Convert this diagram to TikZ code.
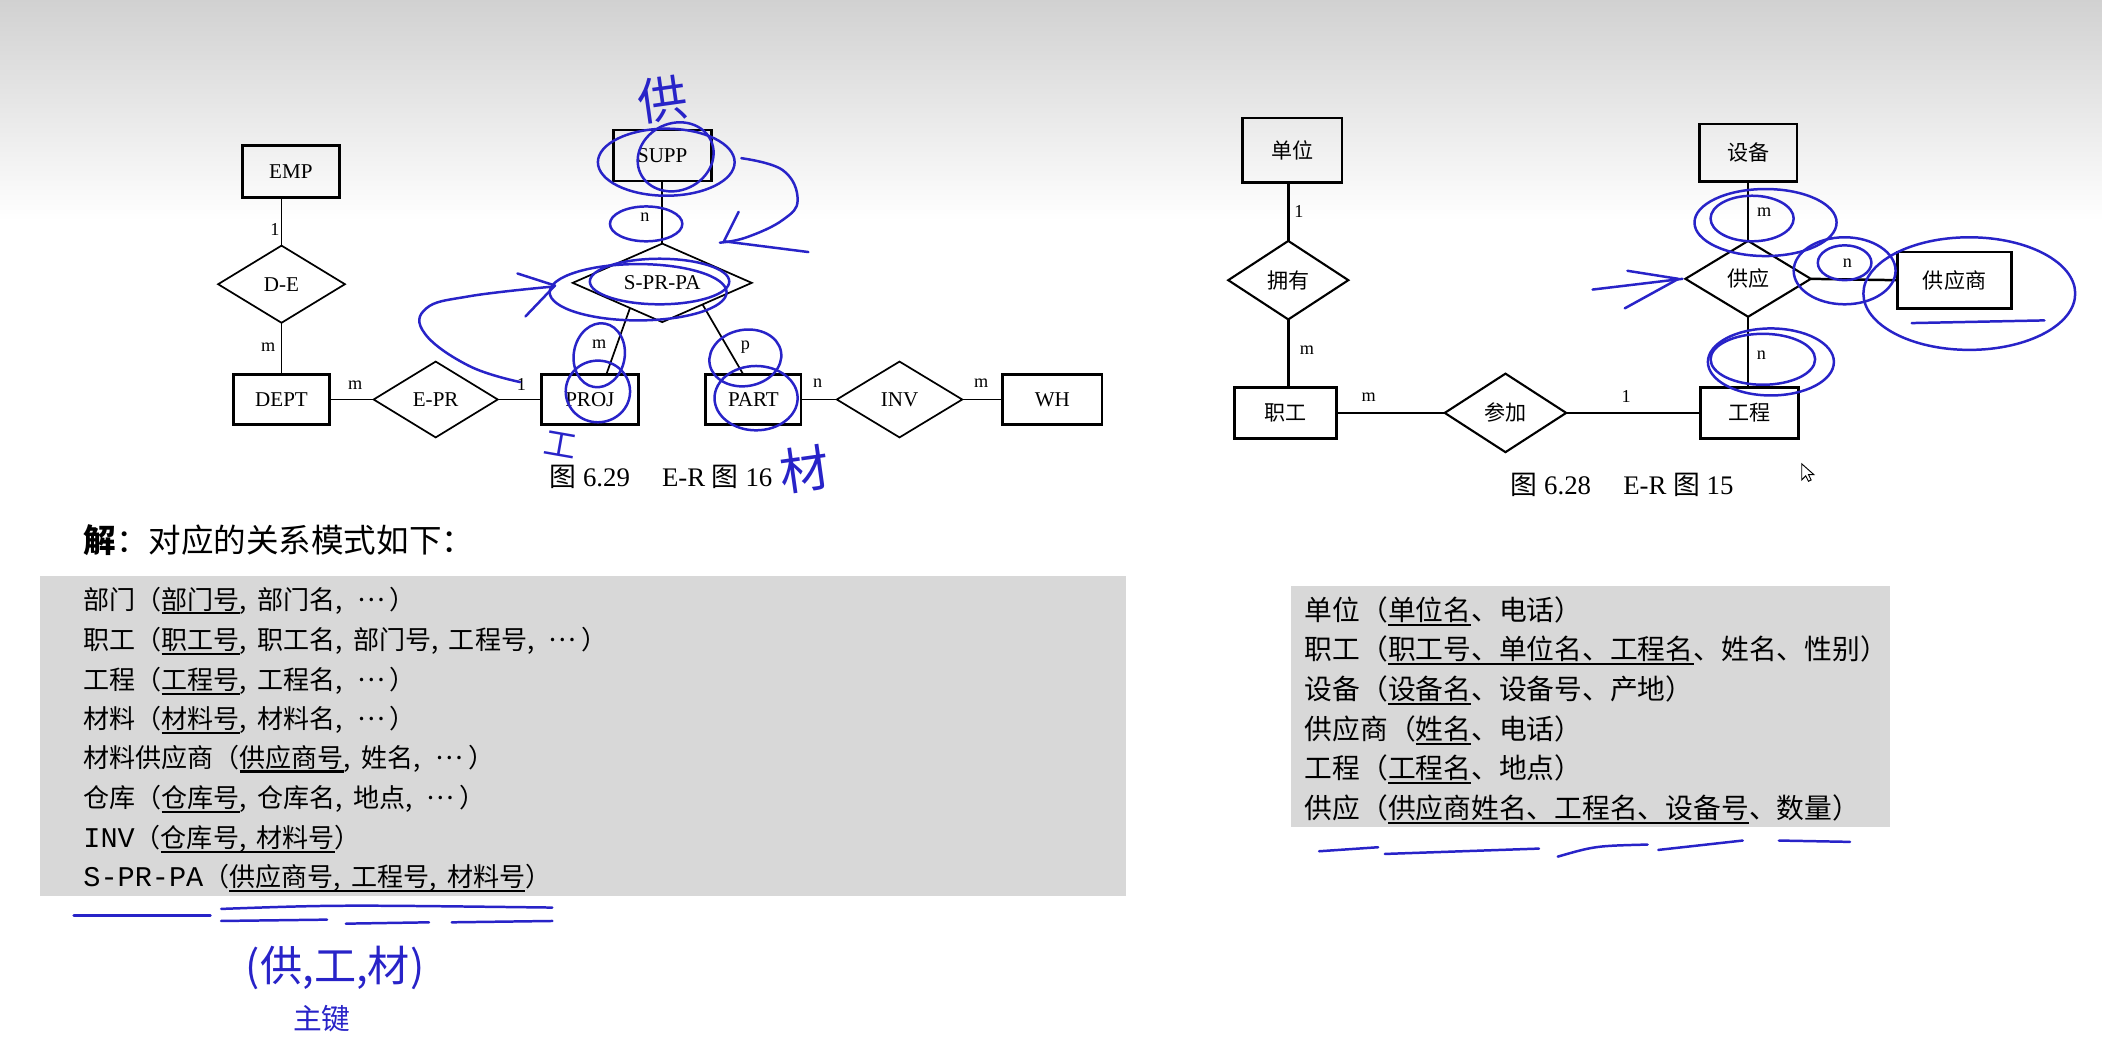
\documentclass[tikz,border=0pt]{standalone}
\usepackage{fontspec}
\setmainfont{Liberation Serif}
\newfontfamily\cjk{Noto Sans CJK SC}
\newfontfamily\monof{Liberation Mono}
\usetikzlibrary{calc}
\definecolor{hblue}{RGB}{40,35,200}
\definecolor{boxgray}{RGB}{216,216,216}
\newsavebox\ulsave
\newcommand\ulx[1]{\sbox\ulsave{#1}\rlap{\rule[-2.8pt]{\wd\ulsave}{1.1pt}}\usebox\ulsave}
\newcommand\cm{,\kern0.4em}
\newcommand\mdots{\kern0.15em\raisebox{0.3em}{…}\kern0.2em}
\newcommand\drawdia[2][]{\draw[line width=0.9pt,#1] (#2.north)--(#2.east)--(#2.south)--(#2.west)--cycle;}
\begin{document}
\begin{tikzpicture}[x=0.7pt,y=-0.7pt,
  sz/.style 2 args={minimum width={#1*0.7pt},minimum height={#2*0.7pt}},
  ent/.style={draw, line width=1.5pt, inner sep=0, font=\fontsize{11}{12}\selectfont},
  entc/.style={draw, line width=1.4pt, inner sep=0, font=\cjk\fontsize{11}{12}\selectfont},
  rel/.style={inner sep=0, font=\fontsize{11}{12}\selectfont},
  relc/.style={inner sep=0, font=\cjk\fontsize{11}{12}\selectfont},
  lbl/.style={font=\fontsize{9.5}{10}\selectfont, inner sep=0},
  conn/.style={line width=0.9pt},
  connr/.style={line width=1.3pt},
  captxt/.style={font=\fontsize{14}{15}\selectfont, inner sep=0},
  lst/.style={anchor=west, inner sep=0, font=\cjk\fontsize{13.6}{15}\selectfont},
  rlst/.style={anchor=west, inner sep=0, font=\cjk\fontsize{14.5}{15}\selectfont},
  hand/.style={draw=hblue, line width=1.3pt, line cap=round, line join=round},
  htext/.style={text=hblue, inner sep=0, font=\cjk\fontsize{22}{24}\selectfont}
]
\useasboundingbox (0,0) rectangle (1568,779);
\fill[white] (0,0) rectangle (1568,779);
\shade[top color=black!18, bottom color=white] (0,0) rectangle (1568,165);

% gray list boxes
\fill[boxgray] (30,430) rectangle (840,668);
\fill[boxgray] (963,437) rectangle (1410,617);

% ---------- left diagram (Fig 6.29) ----------
\node[ent, sz={72}{39}] (EMP) at (217,128) {EMP};
\node[rel, sz={94}{57}] (DE) at (210,212) {D-E};
\node[ent, sz={72}{37}] (DEPT) at (210,298) {DEPT};
\node[rel, sz={92}{56}] (EPR) at (325,298) {E-PR};
\node[ent, sz={72}{37}] (PROJ) at (440,298) {PROJ};
\node[ent, sz={71}{37}] (PART) at (562,298) {PART};
\node[rel, sz={93}{56}] (INV) at (671,298) {INV};
\node[ent, sz={74}{37}] (WH) at (785,298) {WH};
\node[ent, sz={73}{38}] (SUPP) at (494,116) {SUPP};
\node[rel, sz={133}{58}] (SPRPA) at (494,211) {S-PR-PA};
\drawdia{DE}\drawdia{EPR}\drawdia{INV}\drawdia{SPRPA}

\draw[conn] (EMP.south -| DE.north) -- (DE.north);
\draw[conn] (DE.south) -- (DEPT.north);
\draw[conn] (DEPT.east) -- (EPR.west);
\draw[conn] (EPR.east) -- (PROJ.west);
\draw[conn] (PART.east) -- (INV.west);
\draw[conn] (INV.east) -- (WH.west);
\draw[conn] (SUPP.south) -- (SPRPA.north);
\draw[conn] ($(SPRPA.south)!0.36!(SPRPA.west)$) -- ($(PROJ.north west)!0.67!(PROJ.north east)$);
\draw[conn] ($(SPRPA.south)!0.45!(SPRPA.east)$) -- ($(PART.north west)!0.39!(PART.north east)$);

\node[lbl] (l1) at (205,171) {1};
\node[lbl] (l2) at (200,259) {m};
\node[lbl] (l3) at (265,287) {m};
\node[lbl] (l4) at (389,287) {1};
\node[lbl] (l5) at (481,162) {n};
\node[lbl] (l6) at (447,257) {m};
\node[lbl] (l7) at (556,259) {p};
\node[lbl] (l8) at (610,286) {n};
\node[lbl] (l9) at (732,286) {m};

\node[captxt] (capL) at (493,356) {{\cjk 图} 6.29\hspace{1.2em}E-R {\cjk 图} 16};

% ---------- right diagram (Fig 6.28) ----------
\node[entc, sz={74}{48}] (DW) at (964,112) {单位};
\node[relc, sz={89}{58}] (YY) at (961,209) {拥有};
\node[entc, sz={76}{38}] (ZG) at (959,308) {职工};
\node[relc, sz={90}{58}] (CJ) at (1123,308) {参加};
\node[entc, sz={73}{38}] (GC) at (1305,308) {工程};
\node[relc, sz={93}{56}] (GY) at (1304,208) {供应};
\node[entc, sz={85}{42}] (GYS) at (1458,209) {供应商};
\node[entc, sz={73}{43}] (SB) at (1304,114) {设备};
\drawdia[line width=1.1pt]{YY}\drawdia[line width=1.1pt]{CJ}\drawdia[line width=1.1pt]{GY}

\draw[connr] (DW.south -| YY.north) -- (YY.north);
\draw[connr] (YY.south) -- (YY.south |- ZG.north);
\draw[connr] (ZG.east) -- (CJ.west);
\draw[connr] (CJ.east) -- (GC.west);
\draw[connr] (SB.south) -- (GY.north);
\draw[connr] (GY.south) -- (GY.south |- GC.north);
\draw[connr] (GY.east) -- (GYS.west);

\node[lbl] (r1) at (969,158) {1};
\node[lbl] (r2) at (975,261) {m};
\node[lbl] (r3) at (1021,296) {m};
\node[lbl] (r4) at (1213,296) {1};
\node[lbl] (r5) at (1316,158) {m};
\node[lbl] (r6) at (1378,196) {n};
\node[lbl] (r7) at (1314,265) {n};

\node[captxt] (capR) at (1210,362) {{\cjk 图} 6.28\hspace{1.2em}E-R {\cjk 图} 15};

% cursor
\draw[fill=white, line width=0.5pt] (1344,346) -- (1344,358) -- (1347,355) -- (1349,359) -- (1351,358) -- (1349,354) -- (1353,354) -- cycle;

% ---------- text ----------
\node[anchor=west, inner sep=0, font=\cjk\fontsize{17}{18}\selectfont] (jie) at (62,403) {\textbf{解}：对应的关系模式如下：};

\node[lst] (L1) at (62,448) {部门（\ulx{部门号}\cm 部门名\cm\mdots）};
\node[lst] (L2) at (62,478) {职工（\ulx{职工号}\cm 职工名\cm 部门号\cm 工程号\cm\mdots）};
\node[lst] (L3) at (62,508) {工程（\ulx{工程号}\cm 工程名\cm\mdots）};
\node[lst] (L4) at (62,537) {材料（\ulx{材料号}\cm 材料名\cm\mdots）};
\node[lst] (L5) at (62,566) {材料供应商（\ulx{供应商号}\cm 姓名\cm\mdots）};
\node[lst] (L6) at (62,596) {仓库（\ulx{仓库号}\cm 仓库名\cm 地点\cm\mdots）};
\node[lst] (L7) at (62,626) {{\monof\fontsize{14.9}{15}\selectfont INV}（\ulx{仓库号\cm 材料号}）};
\node[lst] (L8) at (62,655) {{\monof\fontsize{14.9}{15}\selectfont S-PR-PA}（\ulx{供应商号\cm 工程号\cm 材料号}）};

\node[rlst] (R1) at (973,456) {单位（\ulx{单位名}、电话）};
\node[rlst] (R2) at (973,485) {职工（\ulx{职工号、单位名、工程名}、姓名、性别）};
\node[rlst] (R3) at (973,515) {设备（\ulx{设备名}、设备号、产地）};
\node[rlst] (R4) at (973,545) {供应商（\ulx{姓名}、电话）};
\node[rlst] (R5) at (973,574) {工程（\ulx{工程名}、地点）};
\node[rlst] (R6) at (973,604) {供应（\ulx{供应商姓名、工程名、设备号}、数量）};

% ---------- handwritten annotations ----------
\node[htext, font=\cjk\fontsize{26}{28}\selectfont, rotate=8] (hw1) at (494,74) {供};
\node[htext, font=\cjk\fontsize{17}{18}\selectfont, rotate=-10] (hw2) at (418,332) {工};
\node[htext, font=\cjk\fontsize{26}{28}\selectfont, rotate=8] (hw3) at (600,350) {材};
\node[htext] (hw4) at (250,722) {(供,工,材)};
\node[htext, font=\cjk\fontsize{15}{16}\selectfont] (hw5) at (240,760) {主键};

\draw[hand] (497,121) ellipse [x radius=51, y radius=25];
\draw[hand, rotate around={25:(504,117)}] (504,117) ellipse [x radius=29, y radius=25];
\draw[hand] (482,167) ellipse [x radius=27, y radius=13];
\draw[hand] plot[smooth, tension=0.7] coordinates {(553,118) (584,127) (595,149) (584,164) (557,177) (537,181)};
\draw[hand] (551,158) -- (540,180) -- (603,188);

\draw[hand] (476,218) ellipse [x radius=66, y radius=21];
\draw[hand] (492,210) ellipse [x radius=52, y radius=17];
\draw[hand] plot[smooth, tension=0.7] coordinates {(388,285) (350,273) (317,249) (318,230) (350,221) (410,214)};
\draw[hand] (386,204) -- (414,213) -- (392,236);

\draw[hand, rotate around={-10:(447,265)}] (447,265) ellipse [x radius=19, y radius=24];
\draw[hand] (446,292) ellipse [x radius=24, y radius=23];
\draw[hand, rotate around={10:(556,267)}] (556,267) ellipse [x radius=27, y radius=21];
\draw[hand] (564,297) ellipse [x radius=31, y radius=24];

\draw[hand] (55,683) -- (157,683);
\draw[hand] (165,678) .. controls (250,675) .. (412,677);
\draw[hand] (165,687) -- (244,686);
\draw[hand] (258,689) -- (320,688);
\draw[hand] (337,688) -- (412,687);

% right side annotations
\draw[hand] (1317,166) ellipse [x radius=53, y radius=25];
\draw[hand] (1307,163) ellipse [x radius=31, y radius=17];
\draw[hand] (1376,202) ellipse [x radius=38, y radius=25];
\draw[hand] (1376,196) ellipse [x radius=20, y radius=13];
\draw[hand] (1469,219) ellipse [x radius=79, y radius=42];
\draw[hand] (1426,241) -- (1525,239);
\draw[hand] (1188,216) -- (1255,208);
\draw[hand] (1214,202) -- (1252,208) -- (1212,230);
\draw[hand] (1321,270) ellipse [x radius=47, y radius=25];
\draw[hand] (1315,268) ellipse [x radius=39, y radius=19];

\draw[hand] (984,635) -- (1028,632);
\draw[hand] (1033,637) -- (1148,633);
\draw[hand] (1162,639) .. controls (1190,631) .. (1229,630);
\draw[hand] (1237,634) -- (1300,627);
\draw[hand] (1327,627) -- (1380,628);
\end{tikzpicture}
\end{document}
